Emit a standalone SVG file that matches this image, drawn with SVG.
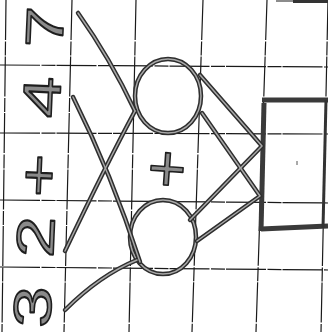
<svg xmlns="http://www.w3.org/2000/svg" width="328" height="332" viewBox="0 0 328 332">
<style>
.grid{stroke:#1a1a1a;stroke-width:1.2;fill:none;stroke-dasharray:40 1.5 14 1}
.ink{stroke:#2e2e2e;stroke-width:4.5;fill:none;stroke-linecap:round;stroke-linejoin:round}
.core{stroke:#a8a8a8;stroke-width:1.5;fill:none;stroke-linecap:round;stroke-linejoin:round}
.thick{stroke:#3a3a3a;stroke-width:5;fill:none;stroke-linecap:butt}
.hand{font-family:"Liberation Sans",Arial,sans-serif;fill:#8a8a8a;stroke:#1e1e1e;stroke-width:1.6;stroke-linejoin:round}
</style>
<rect width="328" height="332" fill="#fff"/>
<g id="grid">
<line class="grid" x1="6" y1="0" x2="2" y2="332"/>
<line class="grid" x1="72" y1="0" x2="64" y2="332"/>
<line class="grid" x1="136" y1="0" x2="129" y2="332"/>
<line class="grid" x1="203" y1="0" x2="192" y2="332"/>
<line class="grid" x1="267" y1="0" x2="256" y2="332"/>
<line class="grid" x1="328" y1="0" x2="321" y2="332"/>
<line class="grid" x1="0" y1="65" x2="328" y2="67"/>
<line class="grid" x1="0" y1="133" x2="328" y2="134"/>
<line class="grid" x1="0" y1="200" x2="328" y2="203"/>
<line class="grid" x1="0" y1="267" x2="328" y2="270"/>
<line class="grid" x1="276" y1="1" x2="328" y2="1"/>
<line x1="293" y1="1.5" x2="328" y2="1.5" stroke="#333" stroke-width="3"/>
</g>
<g id="label-sum">
<text class="hand" font-size="53" text-anchor="middle" dominant-baseline="central" transform="translate(39,167) rotate(-87.5) scale(1.4,1)"><tspan x="-100">3</tspan><tspan x="-50">2</tspan><tspan x="-6">+</tspan><tspan x="50">4</tspan><tspan x="100">7</tspan></text>
</g>
<g id="node-top">
<ellipse class="ink" cx="168" cy="96" rx="33" ry="37"/>
<ellipse class="core" cx="168" cy="96" rx="33" ry="37"/>
</g>
<g id="node-bottom">
<ellipse class="ink" cx="163" cy="237" rx="33" ry="37"/>
<ellipse class="core" cx="163" cy="237" rx="33" ry="37"/>
</g>
<g id="label-plus">
<text class="hand" font-size="66" text-anchor="middle" dominant-baseline="central" transform="translate(167,168) rotate(4)">+</text>
</g>
<g id="node-box">
<path class="thick" d="M262,100 L328,100"/>
<path class="thick" d="M264,103 L261,231"/>
<path class="thick" d="M261,229 L328,226"/>
<path d="M326,100 L323,228" stroke="#333" stroke-width="3" fill="none"/>
<line x1="297" y1="161" x2="297" y2="165" stroke="#555" stroke-width="1"/>
</g>
<g id="connectors">
<path class="ink" d="M78,13 Q110,58 135,111"/>
<path class="ink" d="M135,111 Q106,165 65,251"/>
<path class="ink" d="M73,97 Q112,175 140,262"/>
<path class="ink" d="M137,260 Q100,275 65,310"/>
<path class="ink" d="M200,75 L262,146 L190,220"/>
<path class="ink" d="M202,113 L260,196 L197,241"/>
<path class="core" d="M78,13 Q110,58 135,111"/>
<path class="core" d="M135,111 Q106,165 65,251"/>
<path class="core" d="M73,97 Q112,175 140,262"/>
<path class="core" d="M137,260 Q100,275 65,310"/>
<path class="core" d="M200,75 L262,146 L190,220"/>
<path class="core" d="M202,113 L260,196 L197,241"/>
</g>
</svg>
